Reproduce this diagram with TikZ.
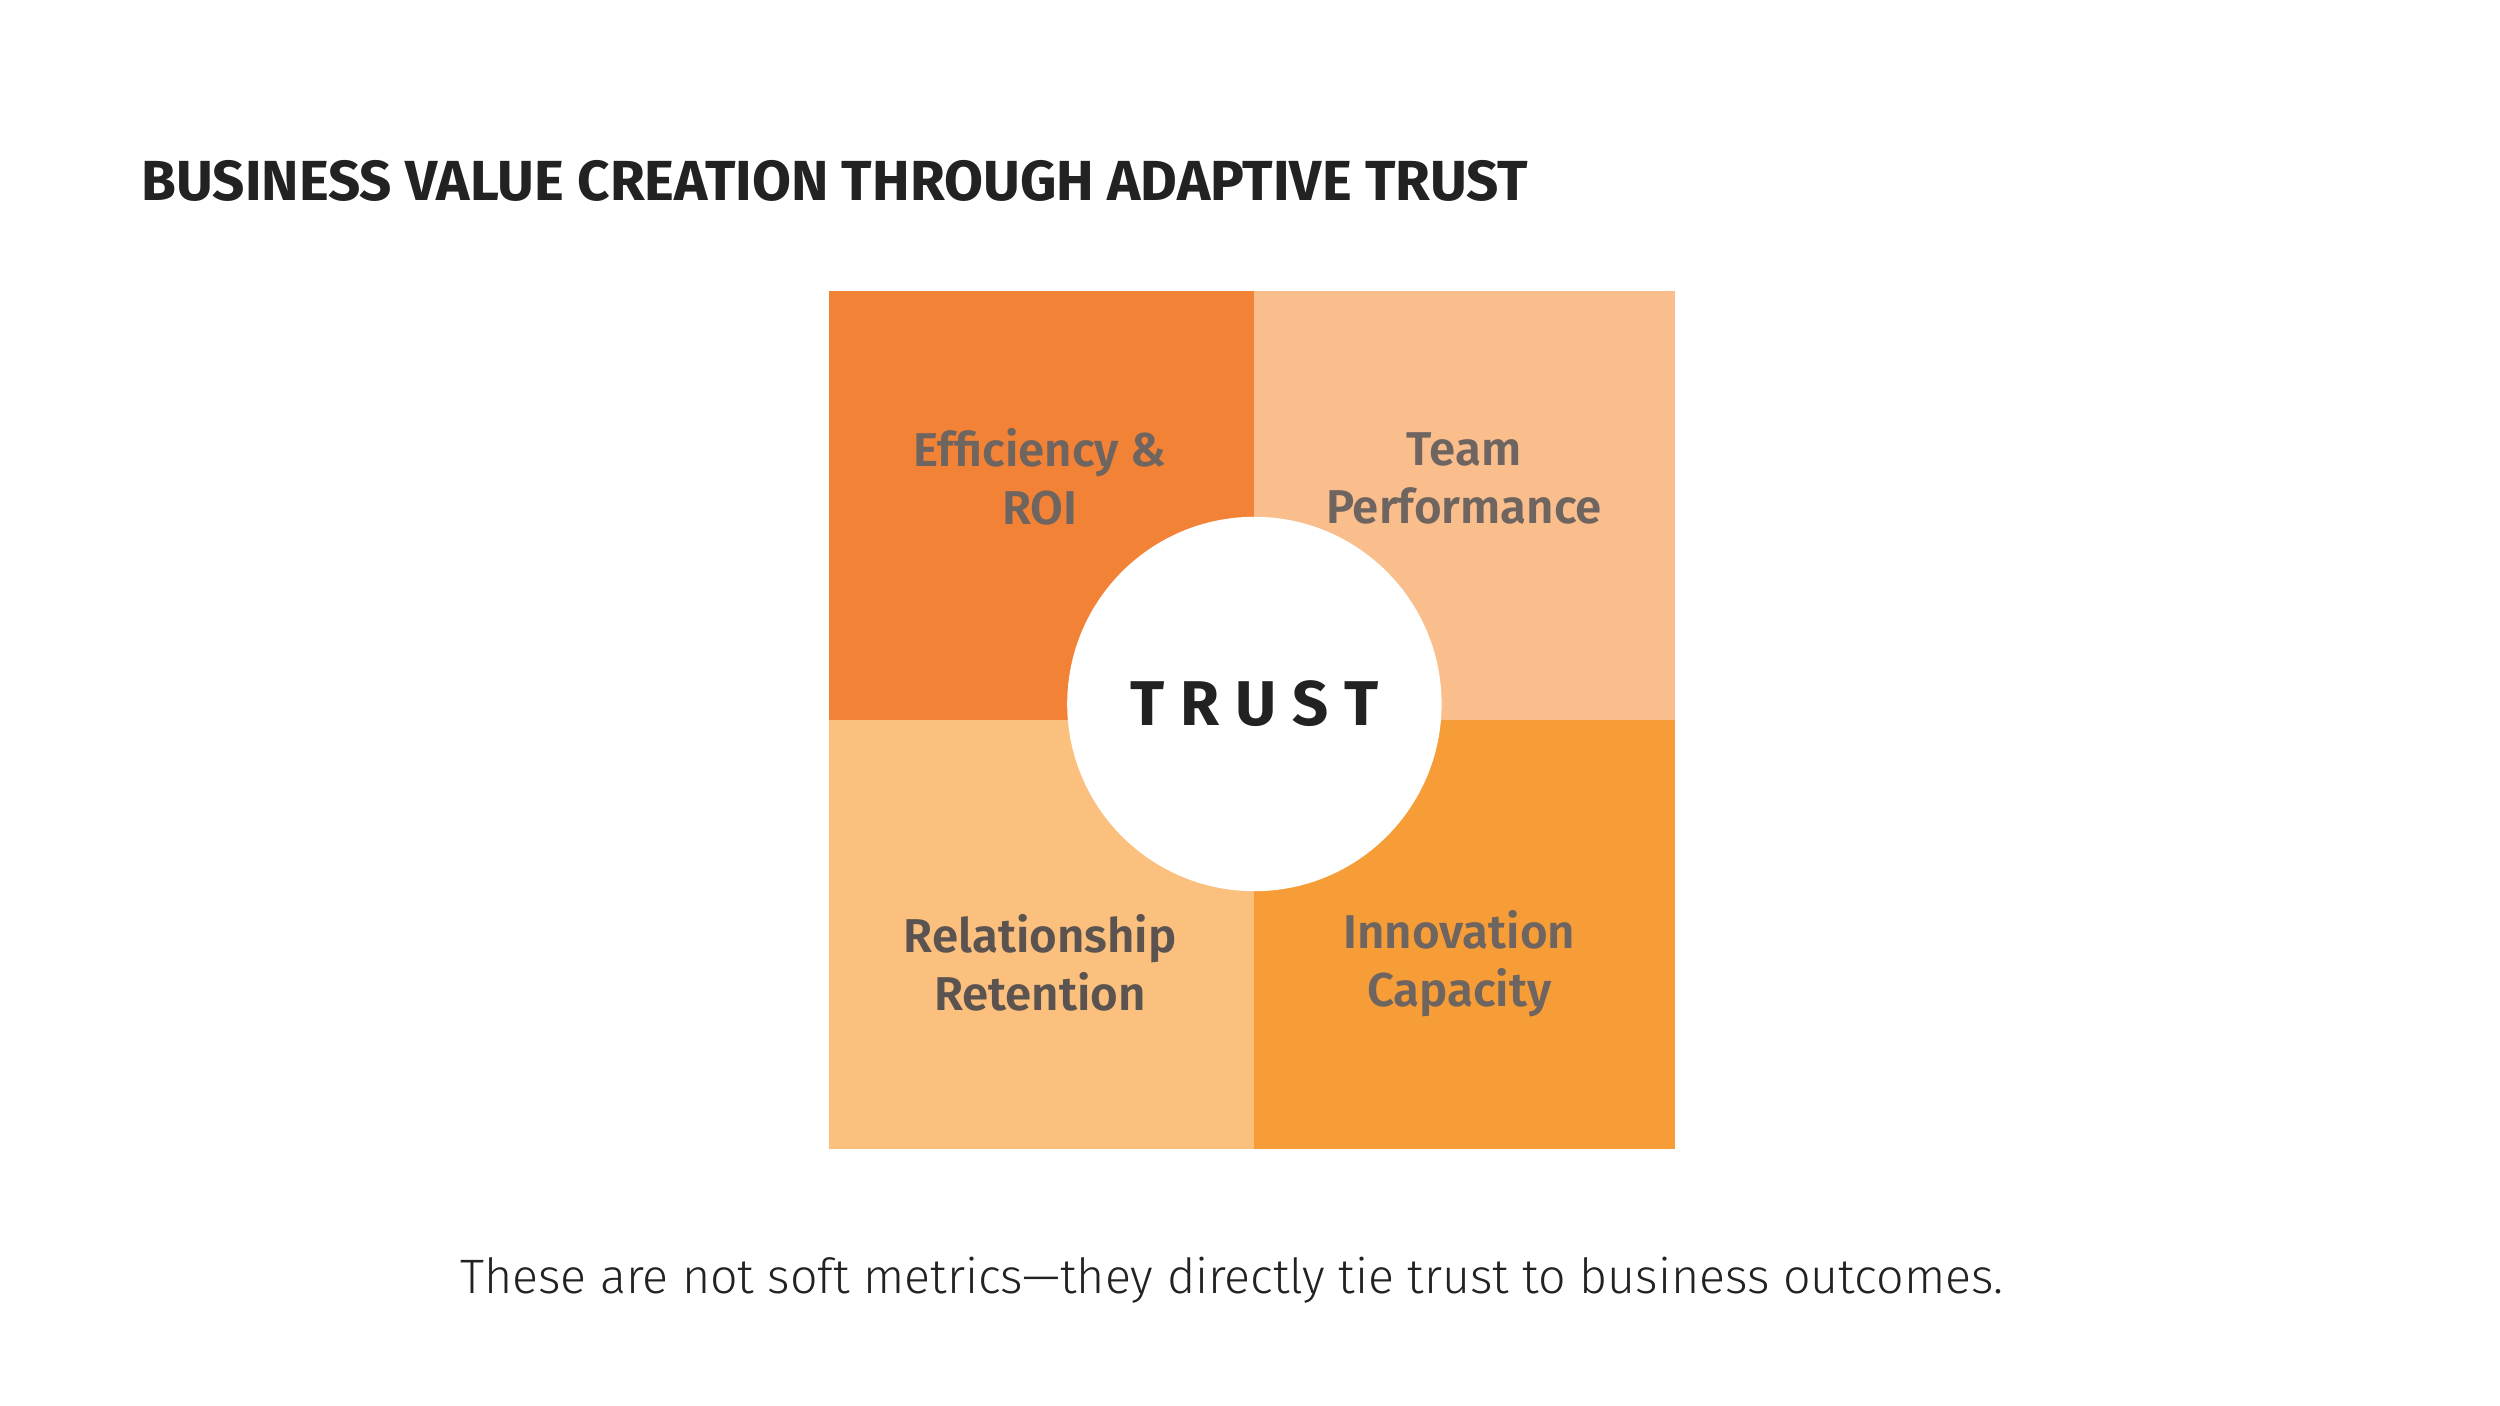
\documentclass[tikz,border=0pt]{standalone}
\usepackage{fontspec}
\setmainfont{Fira Sans}
\newfontfamily\semib{Fira Sans SemiBold}
\newfontfamily\lightf{Fira Sans Light}
\definecolor{cTL}{HTML}{F28236}
\definecolor{cTR}{HTML}{FABD8C}
\definecolor{cBL}{HTML}{FBBF7E}
\definecolor{cBR}{HTML}{F79D38}
\definecolor{lab}{HTML}{6E6460}
\definecolor{labd}{HTML}{5A5350}
\definecolor{ink}{HTML}{222222}
\begin{document}
\begin{tikzpicture}[x=0.016cm,y=-0.016cm,
  lbl/.style={font=\semib\fontsize{13.5}{16.5}\selectfont,align=center,text=lab}]
\useasboundingbox (0,0) rectangle (1562.5,878.75);
\fill[white] (0,0) rectangle (1562.5,878.75);
\fill[cTL] (518,182) rectangle (784,450);
\fill[cTR] (784,182) rectangle (1047,450);
\fill[cBL] (518,450) rectangle (784,718);
\fill[cBR] (784,450) rectangle (1047,718);
\node[circle,fill=white,minimum size=234*0.016cm,inner sep=0] (c) at (784,440) {};
\node[font=\bfseries\fontsize{18}{20}\selectfont,text=ink] (t) at (c) {T\hspace{0.25em}R\hspace{0.25em}U\hspace{0.25em}S\hspace{0.25em}T};
\node[lbl] (a) at (650,298) {Efficiency \&\\ROI};
\node[lbl] (b) at (915,299) {Team\\Performance};
\node[lbl,text=labd] (d) at (650,602) {Relationship\\Retention};
\node[lbl] (e) at (912,602) {Innovation\\Capacity};
\node[anchor=west,inner sep=0,text=ink] (ti) at (88,113) {\resizebox{13.87cm}{!}{\bfseries BUSINESS VALUE CREATION THROUGH ADAPTIVE TRUST}};
\node[inner sep=0,text=ink] (bt) at (770,800) {\resizebox{15.44cm}{!}{\lightf These are not soft metrics—they directly tie trust to business outcomes.}};
\end{tikzpicture}
\end{document}
